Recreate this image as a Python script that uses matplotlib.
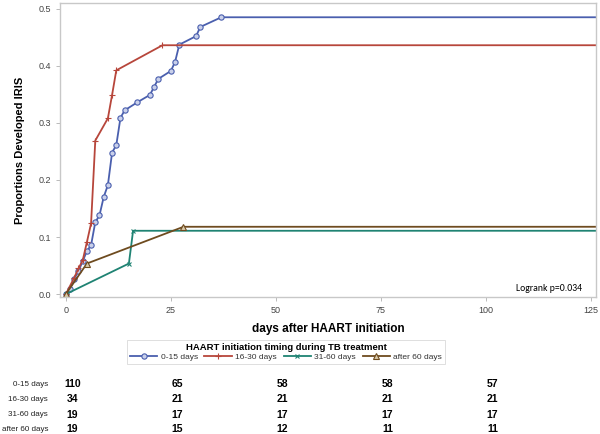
import numpy as np
import matplotlib
matplotlib.use("agg")
import matplotlib.pyplot as plt
import matplotlib.transforms as mtransforms

plt.rcParams['font.family'] = ['Liberation Sans', 'DejaVu Sans']

# cumulative incidence curves
t_0_15 = [0, 1, 2, 3, 4, 5, 6, 7, 8, 9, 10, 11, 12, 13, 14, 17, 20, 21, 22, 25, 26, 27, 31, 32, 37, 127]
p_0_15 = [0, 0.009, 0.027, 0.040, 0.058, 0.075, 0.086, 0.126, 0.138, 0.170, 0.191, 0.248, 0.261, 0.309, 0.322,
          0.336, 0.349, 0.363, 0.377, 0.391, 0.407, 0.437, 0.452, 0.468, 0.485, 0.485]
t_16_30 = [0, 2, 3, 4, 5, 6, 7, 10, 11, 12, 23, 127]
p_16_30 = [0, 0.029, 0.045, 0.059, 0.091, 0.124, 0.269, 0.308, 0.349, 0.392, 0.436, 0.436]
t_31_60 = [0, 15, 16, 127]
p_31_60 = [0, 0.0536, 0.111, 0.111]
t_after60 = [0, 5, 28, 127]
p_after60 = [0, 0.0536, 0.118, 0.118]

groups = ['0-15 days', '16-30 days', '31-60 days', 'after 60 days']
risk_times = [0, 25, 50, 75, 100]
at_risk = {
    '0-15 days': [110, 65, 58, 58, 57],
    '16-30 days': [34, 21, 21, 21, 21],
    '31-60 days': [19, 17, 17, 17, 17],
    'after 60 days': [19, 15, 12, 11, 11],
}

colors = ['#4a5fae', '#b7463b', '#1f8373', '#6e4b1f']

fig = plt.figure(figsize=(6, 4.34), dpi=100)
ax = fig.add_axes([0.1, 0.3157, 0.8933, 0.6774])

series = [(t_0_15, p_0_15), (t_16_30, p_16_30), (t_31_60, p_31_60), (t_after60, p_after60)]
styles = [dict(marker='o', mfc='#c9d0ea', ms=3.8),
          dict(marker='+', ms=5),
          dict(marker='x', ms=3.5),
          dict(marker='^', mfc='#d9c9a8', ms=3.8)]
handles = []
for (t, p), c, st, g in zip(series, colors, styles, groups):
    # no marker on the tail that runs off the right edge
    h, = ax.plot(t, p, color=c, lw=1.3, mec=c, mew=0.8, markevery=list(range(len(t) - 1)),
                 label=g, clip_on=True, **st)
    handles.append(h)

ax.set_xlim(-1.4, 126.2)
ax.set_ylim(-0.005, 0.51)
ax.set_xticks([0, 25, 50, 75, 100, 125])
ax.set_yticks([0.0, 0.1, 0.2, 0.3, 0.4, 0.5])
ax.set_yticklabels(['0.0', '0.1', '0.2', '0.3', '0.4', '0.5'])
ax.tick_params(colors='#b0b0b0', labelcolor='#444444', labelsize=6.5, length=3, width=0.6)
for s in ax.spines.values():
    s.set_color('#c8c8c8')
    s.set_linewidth(1.0)

ax.set_ylabel('Proportions Developed IRIS', fontsize=8, fontweight='bold', labelpad=10)
ax.set_xlabel('days after HAART initiation', fontsize=8.5, fontweight='bold', labelpad=6)

ax.text(0.975, 0.015, 'Logrank p=0.034', transform=ax.transAxes, ha='right', va='bottom',
        fontsize=7, family=['Carlito', 'Liberation Sans', 'DejaVu Sans'])

leg = fig.legend(handles=handles, loc='center', bbox_to_anchor=(286 / 600, 1 - 352 / 434),
                 ncol=4, fontsize=6, title='HAART initiation timing during TB treatment',
                 title_fontproperties={'weight': 'bold', 'size': 6.8}, frameon=True,
                 fancybox=False, edgecolor='#d0d0d0', handlelength=3.3, columnspacing=0.8,
                 handletextpad=0.4, borderpad=0.3, labelspacing=0.2)
leg.get_frame().set_linewidth(0.6)
for txt in leg.get_texts():
    txt.set_color('#333333')

# numbers at risk table under the axes
trans = mtransforms.blended_transform_factory(ax.transData, fig.transFigure)
row_y = [1 - 384 / 434, 1 - 399.5 / 434, 1 - 414.5 / 434, 1 - 429.5 / 434]
for g, y in zip(groups, row_y):
    fig.text(48 / 600, y, g, ha='right', va='center', fontsize=5.8, color='#222222')
    for tx, n in zip(risk_times, at_risk[g]):
        ax.text(tx + 1.6, y, str(n), transform=trans, ha='center', va='center', fontsize=7.5,
                fontweight='bold')

fig.savefig('out.png', dpi=100)
